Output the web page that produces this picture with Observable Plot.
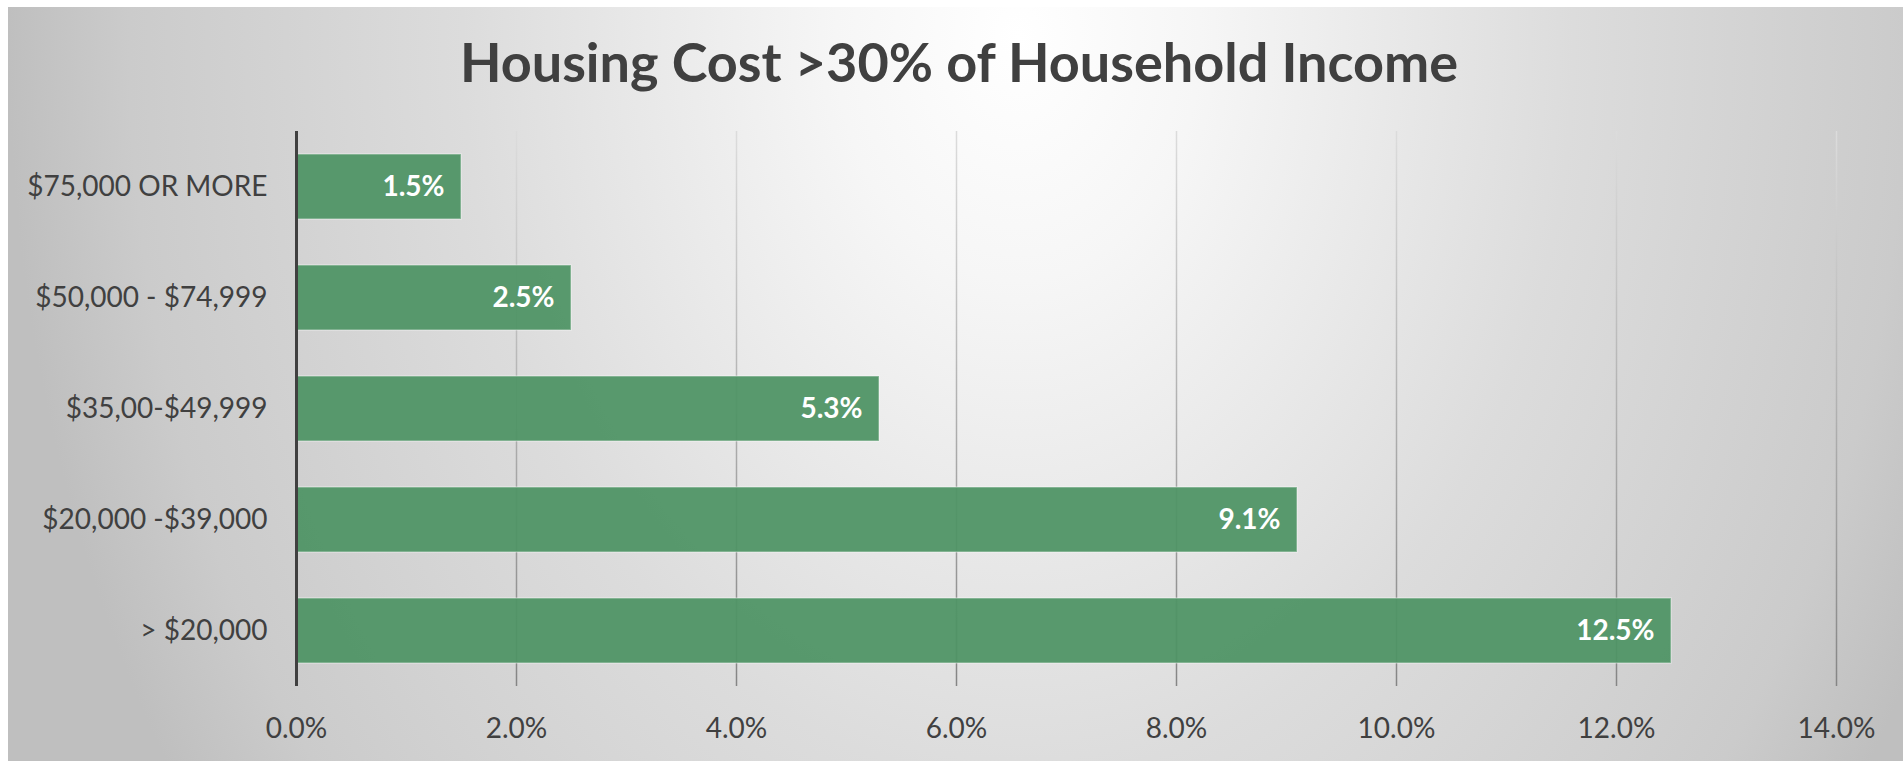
<!DOCTYPE html>
<html>
<head>
<meta charset="utf-8">
<script src="https://cdn.jsdelivr.net/npm/d3@7"></script>
<script src="https://cdn.jsdelivr.net/npm/@observablehq/plot@0.6"></script>
<style>
  html, body { margin: 0; padding: 0; background: #ffffff; }
  #page { position: relative; width: 1903px; height: 761px; overflow: hidden; }
  #bg {
    position: absolute; left: 8px; top: 7px; width: 1895px; height: 754px;
    background: radial-gradient(ellipse 1010px 1350px at 1010px 30px, #ffffff 0%, #f6f6f6 18%, #e8e8e8 38%, #dcdcdc 55%, #cbcbcb 88%, #bfbfbf 100%);
  }
  #title {
    position: absolute; left: 0; top: 35px; width: 1918px; text-align: center;
    font-family: Lato, sans-serif; font-weight: bold; font-size: 54px; color: #404040;
    line-height: 1; white-space: nowrap;
  }
  #chart { position: absolute; left: 0; top: 0; }
</style>
</head>
<body>
<div id="page">
  <div id="bg"></div>
  <div id="title">Housing Cost &gt;30% of Household Income</div>
  <div id="chart"></div>
</div>
<script>
const categories = ["$75,000 OR MORE", "$50,000 - $74,999", "$35,00-$49,999", "$20,000 -$39,000", "> $20,000"];
const values = [1.5, 2.5, 5.3, 9.1, 12.5];
const xTicks = [0, 2, 4, 6, 8, 10, 12, 14];

const data = categories.map((c, i) => ({label: c, value: values[i]}));
const pct = d => d.toFixed(1) + "%";

const defs = () => {
  const g = d3.create("svg:defs");
  const lg = g.append("linearGradient")
    .attr("id", "gridGrad")
    .attr("gradientUnits", "userSpaceOnUse")
    .attr("x1", 0).attr("y1", 131).attr("x2", 0).attr("y2", 686);
  lg.append("stop").attr("offset", "0%").attr("stop-color", "#dcdcdc");
  lg.append("stop").attr("offset", "100%").attr("stop-color", "#858585");
  return g.node();
};

const chart = Plot.plot({
  width: 1903,
  height: 761,
  marginLeft: 296,
  marginRight: 67,
  marginTop: 131,
  marginBottom: 75,
  style: {background: "transparent", fontFamily: "Lato, sans-serif", fontSize: "28px", color: "#404040", overflow: "visible"},
  x: {domain: [0, 14]},
  y: {domain: categories, paddingInner: 0.41, paddingOuter: 0.205},
  marks: [
    defs,
    Plot.gridX(xTicks.filter(d => d > 0), {stroke: "url(#gridGrad)", strokeOpacity: 1, strokeWidth: 1.5}),
    Plot.barX(data, {x: "value", y: "label", fill: "#4f9465", fillOpacity: 0.94, stroke: "#ffffff", strokeOpacity: 0.35, strokeWidth: 1.5}),
    Plot.ruleX([0], {stroke: "#404040", strokeWidth: 3}),
    Plot.axisX({ticks: xTicks, tickFormat: pct, tickSize: 0, tickPadding: 32, label: null}),
    Plot.axisY({tickSize: 0, tickPadding: 29, label: null}),
    Plot.text(data, {x: "value", y: "label", text: d => pct(d.value), textAnchor: "end", dx: -17, fill: "white", fontWeight: "bold", fontSize: 28})
  ]
});
document.getElementById("chart").appendChild(chart);
</script>
</body>
</html>
